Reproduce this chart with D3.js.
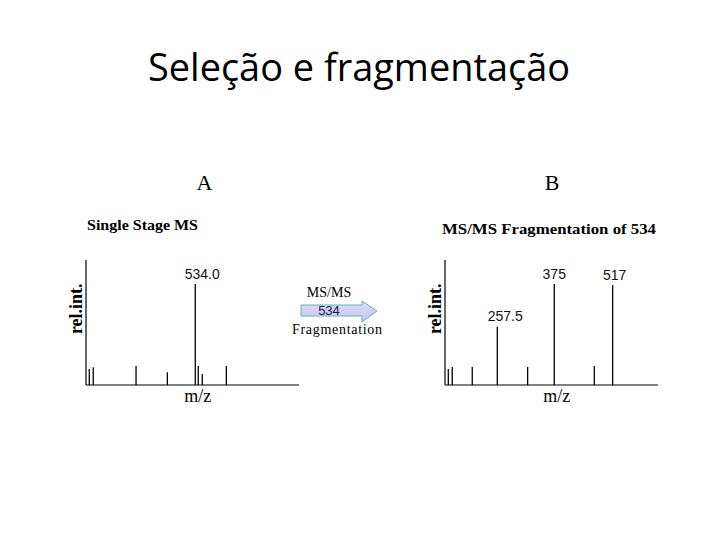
<!DOCTYPE html>
<html>
<head>
<meta charset="utf-8">
<script src="https://cdn.jsdelivr.net/npm/d3@7.9.0/dist/d3.min.js"></script>
<style>
  body { margin: 0; background: #fff; }
  svg { display: block; }
</style>
</head>
<body>
<svg id="chart" width="720" height="540"></svg>
<script>
// Peak positions (0..1000 along m/z), intensities in % of axis height
const singleMz = [15.5, 34, 235, 382, 513, 527, 546, 659];
const singleInt = [12.8, 14.2, 15.2, 10.2, 80.8, 15.2, 8.8, 15.2];
const singleLabels = ["", "", "", "", "534.0", "", "", ""];

const fragMz = [15.5, 34, 128, 245.5, 388, 513, 701, 787];
const fragInt = [12.8, 14.4, 14.4, 46.6, 14.4, 80.8, 15.2, 80];
const fragLabels = ["", "", "", "257.5", "", "375", "", "517"];

// small horizontal nudges of the peak labels (layout only)
const singleLabelDx = [0, 0, 0, 0, 7, 0, 0, 0];
const fragLabelDx = [0, 0, 0, 8, 0, 0, 0, 2];

const svg = d3.select("#chart");

svg.append("text")
  .attr("x", 359)
  .attr("y", 81)
  .attr("text-anchor", "middle")
  .attr("font-family", "Open Sans, sans-serif")
  .attr("font-size", 38)
  .attr("textLength", 422)
  .attr("lengthAdjust", "spacingAndGlyphs")
  .text("Seleção e fragmentação");

function drawSpectrum(opts) {
  const { left, letter, letterX, subtitle, subX, subY, subLen, mz, ints, labels, dx } = opts;
  const x = d3.scaleLinear().domain([0, 1000]).range([left, left + 213]);
  const y = d3.scaleLinear().domain([0, 100]).range([385, 260]);
  const g = svg.append("g");

  g.append("text")
    .attr("x", letterX)
    .attr("y", 190)
    .attr("text-anchor", "middle")
    .attr("font-family", "Liberation Serif, serif")
    .attr("font-size", 22)
    .text(letter);

  g.append("text")
    .attr("x", subX)
    .attr("y", subY)
    .attr("font-family", "Liberation Serif, serif")
    .attr("font-weight", "bold")
    .attr("font-size", 14.5)
    .attr("textLength", subLen)
    .attr("lengthAdjust", "spacingAndGlyphs")
    .text(subtitle);

  // axes
  g.append("line")
    .attr("x1", x(0)).attr("x2", x(0))
    .attr("y1", y(100)).attr("y2", y(0))
    .attr("stroke", "#000").attr("stroke-width", 1.2);
  g.append("line")
    .attr("x1", x(0)).attr("x2", x(1000))
    .attr("y1", y(0)).attr("y2", y(0))
    .attr("stroke", "#000").attr("stroke-width", 1.2);

  const peaks = mz.map((m, i) => ({ m, v: ints[i], label: labels[i], dx: dx[i] }));

  g.selectAll("line.peak")
    .data(peaks)
    .enter()
    .append("line")
    .attr("class", "peak")
    .attr("x1", (d) => x(d.m)).attr("x2", (d) => x(d.m))
    .attr("y1", y(0)).attr("y2", (d) => y(d.v))
    .attr("stroke", "#000")
    .attr("stroke-width", 1.3);

  g.selectAll("text.lab")
    .data(peaks.filter((d) => d.label))
    .enter()
    .append("text")
    .attr("class", "lab")
    .attr("x", (d) => x(d.m) + d.dx)
    .attr("y", (d) => y(d.v) - 5.5)
    .attr("text-anchor", "middle")
    .attr("font-family", "Liberation Sans, Arial, sans-serif")
    .attr("font-size", 14)
    .attr("fill", "#111")
    .text((d) => d.label);

  g.append("text")
    .attr("transform", `translate(${left - 4},${y(61)}) rotate(-90)`)
    .attr("text-anchor", "middle")
    .attr("font-family", "Liberation Serif, serif")
    .attr("font-weight", "bold")
    .attr("font-size", 18)
    .text("rel.int.");

  g.append("text")
    .attr("x", x(525))
    .attr("y", 402)
    .attr("text-anchor", "middle")
    .attr("font-family", "Liberation Serif, serif")
    .attr("font-size", 18)
    .text("m/z");
}

drawSpectrum({
  left: 86, letter: "A", letterX: 204.5,
  subtitle: "Single Stage MS", subX: 87, subY: 230, subLen: 111,
  mz: singleMz, ints: singleInt, labels: singleLabels, dx: singleLabelDx
});
drawSpectrum({
  left: 445, letter: "B", letterX: 552,
  subtitle: "MS/MS Fragmentation of 534", subX: 442, subY: 234, subLen: 214,
  mz: fragMz, ints: fragInt, labels: fragLabels, dx: fragLabelDx
});

// arrow between panels
const defs = svg.append("defs");
const grad = defs.append("linearGradient")
  .attr("id", "arrowFill")
  .attr("x1", 0).attr("y1", 0).attr("x2", 0).attr("y2", 1);
grad.append("stop").attr("offset", "0%").attr("stop-color", "#dcdcfa");
grad.append("stop").attr("offset", "100%").attr("stop-color", "#c4c4f2");

const arrowPts = [
  [301, 305], [362, 305], [362, 301], [377, 311],
  [362, 322], [362, 316], [301, 316]
];
svg.append("path")
  .attr("d", d3.line()(arrowPts) + "Z")
  .attr("fill", "url(#arrowFill)")
  .attr("stroke", "#5fb3c4")
  .attr("stroke-width", 1);

svg.append("text")
  .attr("x", 329).attr("y", 297)
  .attr("text-anchor", "middle")
  .attr("font-family", "Liberation Serif, serif")
  .attr("font-size", 14)
  .text("MS/MS");
svg.append("text")
  .attr("x", 329).attr("y", 315)
  .attr("text-anchor", "middle")
  .attr("font-family", "Liberation Sans, sans-serif")
  .attr("font-size", 13)
  .attr("fill", "#1a1a40")
  .text("534");
svg.append("text")
  .attr("x", 292).attr("y", 334)
  .attr("font-family", "Liberation Serif, serif")
  .attr("font-size", 14)
  .attr("textLength", 90)
  .attr("lengthAdjust", "spacing")
  .text("Fragmentation");
</script>
</body>
</html>
